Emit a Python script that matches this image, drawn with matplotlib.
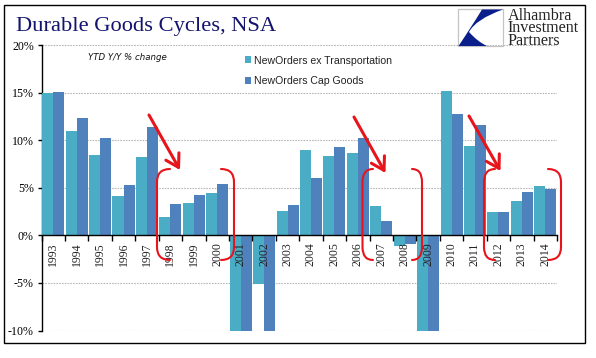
import matplotlib
matplotlib.use('Agg')

import numpy as np
import matplotlib.pyplot as plt
from matplotlib.patches import PathPatch, Rectangle, FancyArrowPatch
from matplotlib.path import Path

W, H = 596, 358

YEARS = [1993, 1994, 1995, 1996, 1997, 1998, 1999, 2000, 2001, 2002, 2003,
         2004, 2005, 2006, 2007, 2008, 2009, 2010, 2011, 2012, 2013, 2014]
EX_TRANSPORT = [15.0, 11.0, 8.4, 4.1, 8.2, 1.9, 3.4, 4.4, -10.0, -5.1, 2.6,
                9.0, 8.3, 8.6, 3.1, -1.1, -10.0, 15.2, 9.4, 2.5, 3.6, 5.2]
CAP_GOODS = [15.1, 12.3, 10.2, 5.3, 11.4, 3.3, 4.2, 5.4, -10.0, -10.0, 3.2,
             6.0, 9.3, 10.2, 1.5, -0.9, -10.0, 12.8, 11.6, 2.5, 4.6, 4.9]
Y_TICKS = [-10, -5, 0, 5, 10, 15, 20]

TEAL = '#4bacc6'
BLUE = '#4f81bd'
RED = '#e8141c'
NAVY = '#14146e'
SERIF = 'Liberation Serif'
SANS = 'Liberation Sans'


def fx(x):
    return x / W


def fy(y):
    return 1 - y / H


def fp(x, y):
    return (fx(x), fy(y))


def add_path(fig, verts, codes, **kw):
    pts = [fp(x, y) for x, y in verts]
    fig.add_artist(PathPatch(Path(pts, codes), transform=fig.transFigure, **kw))


def bracket(fig, x_out, x_end, top=169, bottom=260):
    # rounded red side of a hand drawn bracket, opening towards x_end
    verts = [(x_end, top), (x_out, top), (x_out, top + 13),
             (x_out, bottom - 13), (x_out, bottom), (x_end, bottom)]
    codes = [Path.MOVETO, Path.CURVE3, Path.CURVE3,
             Path.LINETO, Path.CURVE3, Path.CURVE3]
    add_path(fig, verts, codes, fill=False, edgecolor=RED, lw=1.5,
             capstyle='round', zorder=5)


def arrow(fig, start, tip):
    fig.add_artist(FancyArrowPatch(fp(*start), fp(*tip),
                                   transform=fig.transFigure,
                                   arrowstyle='->,head_length=6,head_width=3.6',
                                   color=RED, lw=2.2, shrinkA=0, shrinkB=0,
                                   mutation_scale=1.5, zorder=6))


fig = plt.figure(figsize=(W / 100, H / 100), dpi=100, facecolor='white')

# outer frame
fig.add_artist(Rectangle(fp(3.5, 342.5), (584.5 - 3.5) / W, (342.5 - 4.5) / H,
                         transform=fig.transFigure, fill=False,
                         edgecolor='black', lw=1.0))

ax = fig.add_axes([fx(41.5), fy(330.5), (557 - 41.5) / W, (330.5 - 45) / H])
x = np.arange(len(YEARS))
width = 0.47
ax.bar(x - width / 2, EX_TRANSPORT, width, color=TEAL, zorder=3,
       label='NewOrders ex Transportation')
ax.bar(x + width / 2, CAP_GOODS, width, color=BLUE, zorder=3,
       label='NewOrders Cap Goods')

ax.set_xlim(-0.5, len(YEARS) - 0.5)
ax.set_ylim(-10, 20)
ax.set_yticks(Y_TICKS)
ax.set_yticklabels(['%d%%' % v for v in Y_TICKS], fontfamily=SERIF, fontsize=8.6)
ax.tick_params(axis='y', length=3, width=1, pad=2.5)
ax.grid(axis='y', color='#b8b8b8', ls=(0, (1.5, 1)), lw=0.8)
ax.set_axisbelow(True)

ax.spines['top'].set_visible(False)
ax.spines['right'].set_visible(False)
ax.spines['bottom'].set_position(('data', 0))
ax.spines['bottom'].set_zorder(4)
ax.spines['left'].set_linewidth(1.0)
ax.spines['bottom'].set_linewidth(1.0)

ax.set_xticks(x)
ax.set_xticklabels(YEARS, rotation=90, fontfamily=SERIF, fontsize=8.5, color='#222222')
ax.set_xticks(np.arange(len(YEARS) + 1) - 0.5, minor=True)
ax.tick_params(axis='x', which='major', length=0, pad=5)
ax.tick_params(axis='x', which='minor', length=4, width=1, direction='out')
# year labels sit on top of the negative bars
ax.xaxis.set_zorder(4)

fig.legend(loc='upper left', bbox_to_anchor=(fx(245), fy(55.5)), frameon=False,
           prop={'family': SANS, 'size': 7.6}, labelcolor='#222222',
           handlelength=0.6, handleheight=0.6, handletextpad=0.25,
           labelspacing=1.0, borderpad=0, borderaxespad=0)

fig.text(fx(16), fy(27), 'Durable Goods Cycles, NSA', family=SERIF, fontsize=16.2,
         color=NAVY, va='center', ha='left')
fig.text(fx(88), fy(57), 'YTD Y/Y % change', family='DejaVu Sans', style='italic',
         fontsize=6.2, color='#111111', va='center', ha='left')

# logo
fig.add_artist(Rectangle(fp(458, 46), 45 / W, 37 / H, transform=fig.transFigure,
                         fill=False, edgecolor='#c4c4c4', lw=0.9))
add_path(fig,
         [(482, 9.5), (503, 9.5), (476, 19), (469, 32), (478, 42), (487, 46),
          (458.5, 46), (472, 26), (482, 9.5)],
         [Path.MOVETO, Path.LINETO, Path.CURVE3, Path.CURVE3, Path.CURVE3,
          Path.CURVE3, Path.LINETO, Path.CURVE3, Path.CURVE3],
         facecolor='#0a1e8c', edgecolor='none')
fig.text(fx(507.5), fy(28.5), 'Alhambra\nInvestment\nPartners', family=SERIF,
         fontsize=11.6, color='#222222', va='center', ha='left', linespacing=0.72)

# red annotations
bracket(fig, 157, 170)
bracket(fig, 234, 221)
bracket(fig, 362.5, 373)
bracket(fig, 422, 412)
bracket(fig, 484, 495)
bracket(fig, 561, 548)
arrow(fig, (149, 115), (180, 170))
arrow(fig, (354, 117), (385.5, 173))
arrow(fig, (469, 116), (500.5, 171))

fig.savefig('out.png', dpi=100)
